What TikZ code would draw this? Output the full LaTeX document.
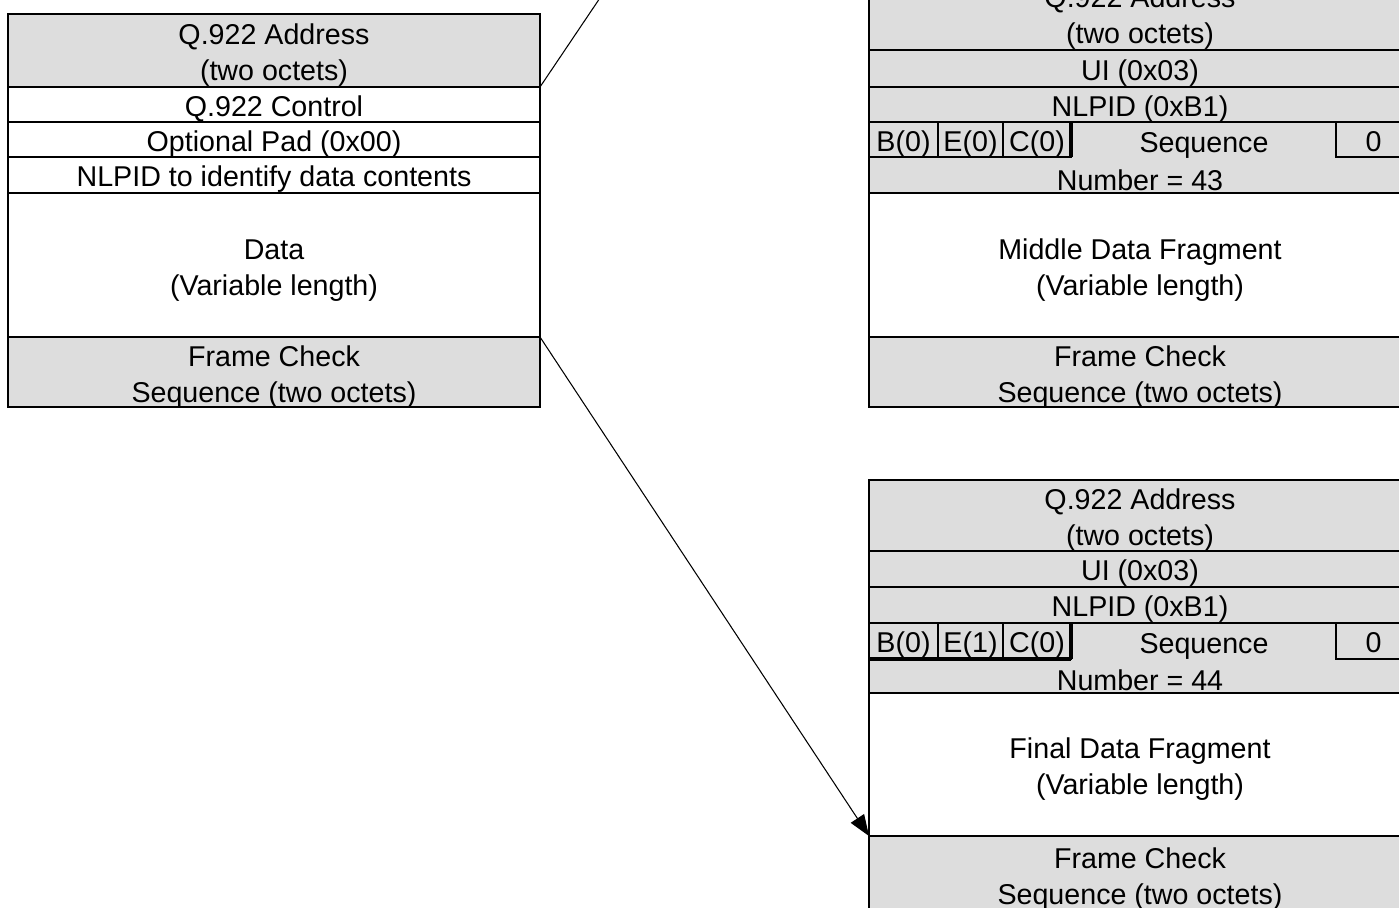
\documentclass[tikz,border=0pt]{standalone}
\usepackage{fontspec}
\setmainfont{Liberation Sans}
\usetikzlibrary{arrows.meta}
\definecolor{cellgray}{RGB}{221,221,221}
\newcommand{\pw}{0.02cm}
\newcommand{\framefont}{\fontsize{16.3pt}{20.3pt}\selectfont}
\tikzset{
  cell/.style={draw=black, line width=1pt, rectangle, anchor=north west,
    inner sep=0pt, outer sep=0pt, align=center, font=\framefont,
    text height=15pt, text depth=1.8pt},
  twoline/.style={text height=35.1pt, text depth=0.9pt},
  shade/.style={fill=cellgray},
  label/.style={inner sep=0pt, font=\framefont},
}
\begin{document}
\begin{tikzpicture}[x=0.02cm, y=-0.02cm]
    \useasboundingbox (0,0) rectangle (1399,907);
    \clip (0,0) rectangle (1399,907);
    % original frame
    \node[cell, twoline, shade, minimum width=532*\pw, minimum height=73*\pw] (laddr) at (8,14) {Q.922 Address\\(two octets)};
    \node[cell, minimum width=532*\pw, minimum height=35*\pw] (lctl) at (laddr.south west) {Q.922 Control};
    \node[cell, minimum width=532*\pw, minimum height=35*\pw] (lpad) at (lctl.south west) {Optional Pad (0x00)};
    \node[cell, minimum width=532*\pw, minimum height=36*\pw] (lnlpid) at (lpad.south west) {NLPID to identify data contents};
    \node[cell, twoline, minimum width=532*\pw, minimum height=144*\pw] (ldata) at (lnlpid.south west) {Data\\(Variable length)};
    \node[cell, twoline, shade, minimum width=532*\pw, minimum height=70*\pw] (lfcs) at (ldata.south west) {Frame Check\\Sequence (two octets)};
    \draw[line width=1.4pt] (laddr.north west) rectangle (lfcs.south east);
    % middle fragment
    \node[cell, twoline, shade, minimum width=542*\pw, minimum height=73*\pw] (raddr) at (869,-23) {Q.922 Address\\(two octets)};
    \node[cell, shade, minimum width=542*\pw, minimum height=37*\pw] (rui) at (raddr.south west) {UI (0x03)};
    \node[cell, shade, minimum width=542*\pw, minimum height=35*\pw] (rnlpid) at (rui.south west) {NLPID (0xB1)};
    \node[cell, shade, minimum width=542*\pw, minimum height=71*\pw] (rseq) at (rnlpid.south west) {};
    \node[cell, minimum width=69*\pw, minimum height=35*\pw] (rbitb) at (rseq.north west) {B(0)};
    \node[cell, minimum width=65*\pw, minimum height=35*\pw] (rbite) at (rbitb.north east) {E(0)};
    \node[cell, minimum width=68*\pw, minimum height=35*\pw] (rbitc) at (rbite.north east) {C(0)};
    \draw[line width=2pt] (rbitc.north east) -- (rbitc.south east);
    \node[cell, minimum width=75*\pw, minimum height=35*\pw] (rzero) at (1336,122) {0};
    \node[label] (rseqtxt) at (1204,145) {Sequence};
    \node[label] (rnum) at (1140,180) {Number = 43};
    \node[cell, twoline, minimum width=542*\pw, minimum height=144*\pw] (rdata) at (rseq.south west) {Middle Data Fragment\\(Variable length)};
    \node[cell, twoline, shade, minimum width=542*\pw, minimum height=70*\pw] (rfcs) at (rdata.south west) {Frame Check\\Sequence (two octets)};
    % final fragment
    \node[cell, twoline, shade, minimum width=542*\pw, minimum height=71*\pw] (baddr) at (869,480) {Q.922 Address\\(two octets)};
    \node[cell, shade, minimum width=542*\pw, minimum height=36*\pw] (bui) at (baddr.south west) {UI (0x03)};
    \node[cell, shade, minimum width=542*\pw, minimum height=36*\pw] (bnlpid) at (bui.south west) {NLPID (0xB1)};
    \node[cell, shade, minimum width=542*\pw, minimum height=70*\pw] (bseq) at (bnlpid.south west) {};
    \node[cell, minimum width=69*\pw, minimum height=36*\pw] (bbitb) at (bseq.north west) {B(0)};
    \node[cell, minimum width=65*\pw, minimum height=36*\pw] (bbite) at (bbitb.north east) {E(1)};
    \node[cell, minimum width=68*\pw, minimum height=36*\pw] (bbitc) at (bbite.north east) {C(0)};
    \draw[line width=2pt] (bbitc.north east) -- (bbitc.south east);
    \draw[line width=2pt] (bbitb.south west) -- (bbitc.south east);
    \node[cell, minimum width=75*\pw, minimum height=36*\pw] (bzero) at (1336,623) {0};
    \node[label] (bseqtxt) at (1204,646) {Sequence};
    \node[label] (bnum) at (1140,680) {Number = 44};
    \node[cell, twoline, minimum width=542*\pw, minimum height=143*\pw] (bdata) at (bseq.south west) {Final Data Fragment\\(Variable length)};
    \node[cell, twoline, shade, minimum width=542*\pw, minimum height=76*\pw] (bfcs) at (bdata.south west) {Frame Check\\Sequence (two octets)};
    % connectors
    \coordinate (prevframe) at (639,-60);
    \draw[line width=0.6pt] (laddr.south east) -- (prevframe);
    \draw[line width=0.6pt, -{Triangle[length=12pt, width=9pt]}] (ldata.south east) -- (bfcs.north west);
\end{tikzpicture}
\end{document}
